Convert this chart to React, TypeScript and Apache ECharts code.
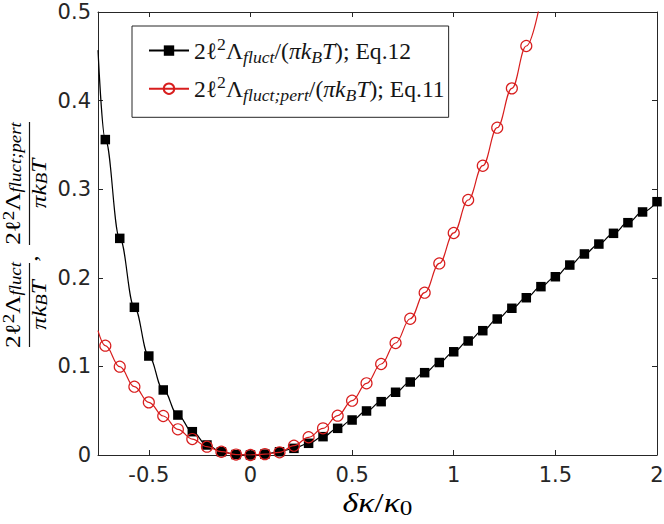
import React, { useEffect, useRef } from 'react';
import * as echarts from 'echarts';

// δκ/κ0 sample positions of the markers
const deltaKappa = [
  -0.714, -0.643, -0.571, -0.5, -0.429, -0.357, -0.286, -0.214, -0.143, -0.071,
  0, 0.071, 0.143, 0.214, 0.286, 0.357, 0.429, 0.5, 0.571, 0.643,
  0.714, 0.786, 0.857, 0.929, 1.0, 1.071, 1.143, 1.214, 1.286, 1.357,
  1.429, 1.5, 1.571, 1.643, 1.714, 1.786, 1.857, 1.929, 2.0,
];
// 2ℓ²Λ_fluct/(πk_BT), Eq.12 (black squares)
const lambdaFluct = [
  0.356, 0.2445, 0.1667, 0.1117, 0.0734, 0.0451, 0.0263, 0.0113, 0.0037, 0.0005,
  0, 0.001, 0.0037, 0.0075, 0.0132, 0.0207, 0.0301, 0.0395, 0.0497, 0.0602,
  0.0708, 0.0824, 0.0929, 0.1044, 0.1165, 0.1287, 0.1403, 0.1535, 0.1656, 0.1775,
  0.19, 0.2012, 0.2144, 0.2269, 0.2381, 0.2502, 0.2622, 0.2743, 0.2859,
];
// 2ℓ²Λ_fluct;pert/(πk_BT), Eq.11 (red circles) – first 30 positions
const lambdaPert = [
  0.1234, 0.0997, 0.0771, 0.0594, 0.044, 0.029, 0.018, 0.0094, 0.0037, 0.0005,
  0, 0.001, 0.003, 0.0105, 0.02, 0.0301, 0.0444, 0.0613, 0.0809, 0.1027,
  0.1264, 0.1538, 0.1832, 0.2162, 0.2506, 0.2878, 0.3265, 0.3694, 0.4138, 0.4616,
];
// curve ends (no marker)
const fluctCurveStart = [-0.75, 0.457];
const pertCurveStart = [-0.75, 0.1403];
const pertCurveEnd = [1.429, 0.515];

const xMin = -0.75;
const xMax = 2;
const yMin = 0;
const yMax = 0.5;
const yStep = 0.1;

const SERIF = 'Liberation Serif';
const SANS = 'DejaVu Sans';
const INK = '#262626';
const TEXT = '#151515';
const RED = '#d81e1e';

// rich-text styles giving TeX-like sub/superscripts
function richStyles(s: number, f: number, r: number) {
  const L = f * s;
  const t = r * s;
  const c = 0.3375; // central-baseline offset (em)
  const base = L / 2 + c * s; // main baseline from line top
  const subCenter = base + 0.22 * s - c * t;
  const supCenter = base - 0.42 * s - c * t;
  const hSub = 2 * (L - subCenter);
  const hSup = 2 * supCenter;
  const b = { fontFamily: SERIF, color: TEXT };
  return {
    n: { ...b, fontSize: s, lineHeight: L, verticalAlign: 'middle' },
    i: { ...b, fontSize: s, lineHeight: L, fontStyle: 'italic', verticalAlign: 'middle' },
    sp: { ...b, fontSize: t, lineHeight: hSup, verticalAlign: 'top' },
    sb: { ...b, fontSize: t, lineHeight: hSub, fontStyle: 'italic', verticalAlign: 'bottom' },
    su: { ...b, fontSize: t, lineHeight: hSub, verticalAlign: 'bottom' },
  };
}

const NAME_FLUCT = 'fluct';
const NAME_PERT = 'pert';
const legendTexts: Record<string, string> = {
  [NAME_FLUCT]: '{n|2ℓ}{sp|2}{n|Λ}{sb|fluct}{n|/(}{i|πk}{sb|B}{i|T}{n|); Eq.12}',
  [NAME_PERT]: '{n|2ℓ}{sp|2}{n|Λ}{sb|fluct;pert}{n|/(}{i|πk}{sb|B}{i|T}{n|); Eq.11}',
};
const yNumFluct = '{n|2ℓ}{sp|2}{n|Λ}{sb|fluct}';
const yNumPert = '{n|2ℓ}{sp|2}{n|Λ}{sb|fluct;pert}';
const yDen = '{i|πk}{sb|B}{i|T}';
const xTitle = '{i|δκ}{n|/}{i|κ}{su|0}';

export default function App() {
  const ref = useRef<HTMLDivElement>(null);
  useEffect(() => {
    if (!ref.current) return;
    const chart = echarts.init(ref.current, undefined, { renderer: 'svg' });
    const RLeg = richStyles(23.6, 1.32, 0.75);
    const RY = richStyles(21, 1.1, 0.75);
    const RX = richStyles(28, 1.1, 0.75);

    const fluctData: any[] = [{ value: fluctCurveStart, symbol: 'none' }];
    deltaKappa.forEach((x, i) => fluctData.push([x, lambdaFluct[i]]));
    const pertData: any[] = [{ value: pertCurveStart, symbol: 'none' }];
    lambdaPert.forEach((y, i) => pertData.push([deltaKappa[i], y]));
    pertData.push({ value: pertCurveEnd, symbol: 'none' });

    const axisCommon = {
      axisLine: { show: true, onZero: false, lineStyle: { color: INK, width: 1 } },
      axisTick: { show: true, inside: true, length: 5, lineStyle: { color: INK, width: 1 } },
      splitLine: { show: false },
    };

    const yText = (text: string, x: number, y: number) => ({
      type: 'text', x, y, scaleX: 1.2,
      style: { text, rich: RY, align: 'center', verticalAlign: 'middle' },
    });

    const option: any = {
      animation: false,
      backgroundColor: '#fff',
      textStyle: { fontFamily: SANS },
      grid: { left: 98, right: 7, top: 12, bottom: 69, containLabel: false, outerBoundsMode: 'none' },
      xAxis: [
        {
          type: 'value', position: 'bottom', min: xMin, max: xMax, splitNumber: 5,
          ...axisCommon,
          axisLabel: { show: true, showMinLabel: false, margin: 9.5, fontFamily: SANS, fontSize: 21, color: INK },
        },
        {
          type: 'value', position: 'top', min: xMin, max: xMax, splitNumber: 5,
          ...axisCommon,
          axisLabel: { show: false },
        },
      ],
      yAxis: [
        {
          type: 'value', position: 'left', min: yMin, max: yMax, interval: yStep,
          ...axisCommon,
          axisLabel: { show: true, margin: 7, fontFamily: SANS, fontSize: 21, color: INK },
        },
        {
          type: 'value', position: 'right', min: yMin, max: yMax, interval: yStep,
          ...axisCommon,
          axisLabel: { show: false },
        },
      ],
      legend: {
        orient: 'vertical', left: 132, top: 26,
        padding: [9, 4, 13, 16], itemGap: 7, itemWidth: 40, itemHeight: 13,
        borderColor: INK, borderWidth: 1, borderRadius: 0, backgroundColor: '#fff',
        selectedMode: false,
        data: [NAME_FLUCT, NAME_PERT],
        formatter: (name: string) => legendTexts[name],
        textStyle: { rich: RLeg },
      },
      graphic: [
        {
          type: 'text', x: 377.5, y: 502.5, scaleX: 1.2, silent: true,
          style: { text: xTitle, rich: RX, align: 'center', verticalAlign: 'middle' },
        },
        {
          type: 'group', x: 29.5, y: 234, rotation: Math.PI / 2, silent: true,
          children: [
            { type: 'line', shape: { x1: -113, y1: 0, x2: -29, y2: 0 }, style: { stroke: TEXT, lineWidth: 1.2 } },
            yText(yNumFluct, -71, -17.1),
            yText(yDen, -71, 8.9),
            yText('{n|,}', -24.5, 0.4),
            { type: 'line', shape: { x1: -11, y1: 0, x2: 112, y2: 0 }, style: { stroke: TEXT, lineWidth: 1.2 } },
            yText(yNumPert, 50.5, -17.1),
            yText(yDen, 50.5, 8.9),
          ],
        },
      ],
      series: [
        {
          name: NAME_FLUCT, type: 'line', xAxisIndex: 0, yAxisIndex: 0,
          data: fluctData, smooth: 0.4, smoothMonotone: 'x', clip: true,
          symbol: 'rect', symbolSize: 9.5,
          itemStyle: { color: '#000' },
          lineStyle: { color: '#000', width: 1.2 },
          emphasis: { disabled: true }, z: 2,
        },
        {
          name: NAME_PERT, type: 'line', xAxisIndex: 0, yAxisIndex: 0,
          data: pertData, smooth: 0.4, smoothMonotone: 'x', clip: true,
          symbol: 'circle', symbolSize: 11,
          itemStyle: { color: 'rgba(255,255,255,0)', borderColor: RED, borderWidth: 1.2 },
          lineStyle: { color: RED, width: 1.2 },
          emphasis: { disabled: true }, z: 3,
        },
      ],
    };
    chart.setOption(option);
    return () => chart.dispose();
  }, []);
  return <div ref={ref} style={{ width: 664, height: 524, position: 'absolute', left: 0, top: 0 }} />;
}
